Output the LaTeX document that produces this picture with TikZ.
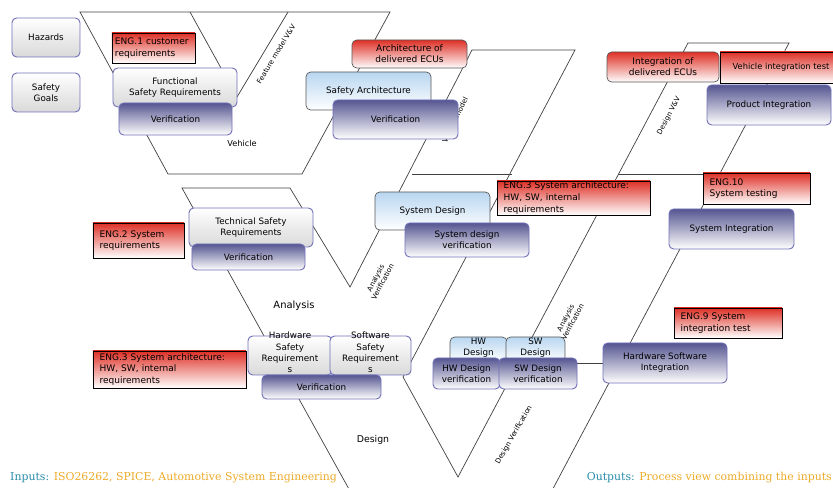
\documentclass[tikz,border=0pt]{standalone}
\usepackage{fontspec}
\usepackage{tikz}
\usetikzlibrary{shapes, arrows}
\newfontfamily\boxfont{DejaVu Sans}
\newfontfamily\notefont{DejaVu Serif}
\definecolor{engred}{RGB}{222,48,38}
\definecolor{verblue}{RGB}{86,86,146}
\definecolor{edgeblue}{RGB}{112,112,184}
\definecolor{archblue}{RGB}{184,214,240}
\definecolor{inputteal}{RGB}{40,140,170}
\definecolor{inputgold}{RGB}{236,170,40}
\tikzstyle{goal} = [rectangle, rounded corners=4pt, draw=edgeblue, line width=0.8pt, top color=white, bottom color=gray!30, align=center, inner sep=1pt, font=\boxfont\fontsize{7.5}{9.5}\selectfont]
\tikzstyle{verif} = [rectangle, rounded corners=4pt, draw=edgeblue, line width=0.8pt, top color=verblue, bottom color=white, align=center, inner sep=1pt, font=\boxfont\fontsize{7.5}{9.5}\selectfont]
\tikzstyle{design} = [rectangle, rounded corners=4pt, draw=black!65, line width=0.6pt, top color=archblue, bottom color=white, align=center, inner sep=1pt, font=\boxfont\fontsize{7.5}{9.5}\selectfont]
\tikzstyle{deliver} = [rectangle, rounded corners=4pt, draw=black!65, line width=0.6pt, top color=engred, bottom color=white, align=center, inner sep=1pt, font=\boxfont\fontsize{7.7}{9.5}\selectfont]
\tikzstyle{eng} = [rectangle, draw=black, line width=0.6pt, top color=engred, bottom color=white, align=left, inner xsep=0.2cm, inner ysep=0.5pt, font=\boxfont\fontsize{7.7}{10}\selectfont]
\tikzstyle{vline} = [black!75, line width=0.6pt]
\tikzstyle{slant} = [align=center, inner sep=0pt, font=\boxfont\fontsize{6}{6.8}\selectfont]
\tikzstyle{level} = [inner sep=0pt, font=\boxfont\fontsize{8}{9}\selectfont]

\begin{document}
\begin{tikzpicture}[x=0.03cm, y=-0.03cm]
\useasboundingbox (0,0) rectangle (833,488);
\clip (0,0) rectangle (833,488);

% V shapes
\draw [vline] (80,12) -- (390,12) -- (302,174) -- (168,174) -- cycle;
\draw [vline] (190,12) -- (237,97) -- (288,12);
\draw [vline] (355,500) -- (182,188) -- (290,188) -- (350,287) -- (472,50) -- (575,50) -- (403,377) -- (458,477) -- (688,43) -- (789,43) -- (547,500);
\draw [vline] (412,174) -- (512,174);
\draw [vline] (618,174) -- (720,174);
\draw [vline] (518,363) -- (619,363);

% labels along the V
\node (featvv) [slant, rotate=59] at (276,54) {Feature model V\&V};
\node (vehmodel) [slant, rotate=64] at (455,120) {Vehicle model};
\node (anaver) [slant, rotate=62] at (379,280) {Analysis\\Verification};
\node (anaver2) [slant, rotate=62] at (569,320) {Analysis\\Verification};
\node (desvv) [slant, rotate=62] at (669,116) {Design V\&V};
\node (desver) [slant, rotate=60] at (514,435) {Design Verification};
\node (vehicle) [level, font=\boxfont\fontsize{7}{8}\selectfont] at (242,143) {Vehicle};
\node (analysis) [level, font=\boxfont\fontsize{8.5}{9}\selectfont] at (294,306) {Analysis};
\node (design) [level] at (373,440) {Design};

% vehicle level
\node (hazards) [goal, minimum width=2.04cm, minimum height=1.17cm] at (46,37.5) {Hazards};
\node (goals) [goal, minimum width=2.04cm, minimum height=1.17cm] at (46,92.5) {Safety\\Goals};
\node (eng1) [eng, text width=2.31cm, inner xsep=0.09cm, minimum height=0.9cm] at (153.5,48) {ENG.1 customer\\requirements};
\node (fsr) [goal, minimum width=3.72cm, minimum height=1.17cm] at (175,87.5) {Functional\\Safety Requirements};
\node (fsrver) [verif, minimum width=3.39cm, minimum height=0.96cm] at (175.5,119) {Verification};
\node (archecu) [deliver, minimum width=3.45cm, minimum height=0.84cm] at (409.5,54) {Architecture of\\delivered ECUs};
\node (safearch) [design, minimum width=3.75cm, minimum height=1.14cm] at (368.5,91) {Safety Architecture};
\node (archver) [verif, minimum width=3.75cm, minimum height=1.17cm] at (395.5,119.5) {Verification};
\node (integecu) [deliver, minimum width=3.36cm, minimum height=0.9cm] at (663,67) {Integration of\\delivered ECUs};
\node (vehtest) [eng, align=center, inner xsep=0pt, minimum width=3.66cm, minimum height=0.93cm, font=\boxfont\fontsize{7.1}{9}\selectfont] at (781,67.5) {Vehicle integration test};
\node (prodint) [verif, minimum width=3.72cm, minimum height=1.2cm] at (769,105) {Product Integration};

% system level
\node (eng2) [eng, text width=2.33cm, minimum height=1.05cm] at (138.5,240.5) {ENG.2 System\\requirements};
\node (tsr) [goal, minimum width=3.72cm, minimum height=1.17cm] at (251,227.5) {Technical Safety\\Requirements};
\node (tsrver) [verif, minimum width=3.39cm, minimum height=0.78cm] at (248.5,257) {Verification};
\node (sysdes) [design, minimum width=3.45cm, minimum height=1.14cm] at (432.5,211) {System Design};
\node (sysdesver) [verif, minimum width=3.72cm, minimum height=1.02cm] at (467,240) {System design\\verification};
\node (eng3a) [eng, text width=4.19cm, minimum height=1.02cm] at (573.5,198) {ENG.3 System architecture:\\HW, SW, internal\\requirements};
\node (eng10) [eng, text width=2.81cm, minimum height=0.93cm] at (756.5,188.5) {ENG.10\\System testing};
\node (sysint) [verif, minimum width=3.75cm, minimum height=1.2cm] at (731.5,229) {System Integration};

% hardware / software level
\node (eng9) [eng, text width=2.84cm, minimum height=0.9cm] at (728,323) {ENG.9 System\\integration test};
\node (hwswint) [verif, minimum width=3.72cm, minimum height=1.2cm] at (665,363) {Hardware Software\\Integration};
\node (eng3b) [eng, text width=4.19cm, minimum height=1.11cm] at (169.5,369.5) {ENG.3 System architecture:\\HW, SW, internal\\requirements};
\node (hwsr) [goal, minimum width=2.52cm, minimum height=1.17cm] at (290,355.5) {\smash{\begin{tabular}{@{}c@{}}Hardware\\Safety\\Requirement\\s\end{tabular}}};
\node (swsr) [goal, minimum width=2.43cm, minimum height=1.17cm] at (370.5,355.5) {\smash{\begin{tabular}{@{}c@{}}Software\\Safety\\Requirement\\s\end{tabular}}};
\node (hwswver) [verif, minimum width=3.57cm, minimum height=0.72cm] at (321.5,387) {Verification};
\node (hwdes) [design, minimum width=1.71cm, minimum height=0.75cm] at (478.5,349.5) {\smash{\begin{tabular}{@{}c@{}}HW\\Design\end{tabular}}};
\node (swdes) [design, minimum width=1.77cm, minimum height=0.75cm] at (535.5,349.5) {\smash{\begin{tabular}{@{}c@{}}SW\\Design\end{tabular}}};
\node (hwdesver) [verif, minimum width=2.01cm, minimum height=0.93cm] at (466.5,373.5) {HW Design\\verification};
\node (swdesver) [verif, minimum width=2.34cm, minimum height=0.93cm] at (538,373.5) {SW Design\\verification};

% inputs and outputs
\node (inputs) [anchor=base west, inner sep=0pt, font=\notefont\fontsize{9.3}{11}\selectfont] at (10,480) {\textcolor{inputteal}{Inputs:} \textcolor{inputgold}{ISO26262, SPICE, Automotive System Engineering}};
\node (outputs) [anchor=base east, inner sep=0pt, font=\notefont\fontsize{9.3}{11}\selectfont] at (832,480) {\textcolor{inputteal}{Outputs:} \textcolor{inputgold}{Process view combining the inputs}};
\end{tikzpicture}
\end{document}
